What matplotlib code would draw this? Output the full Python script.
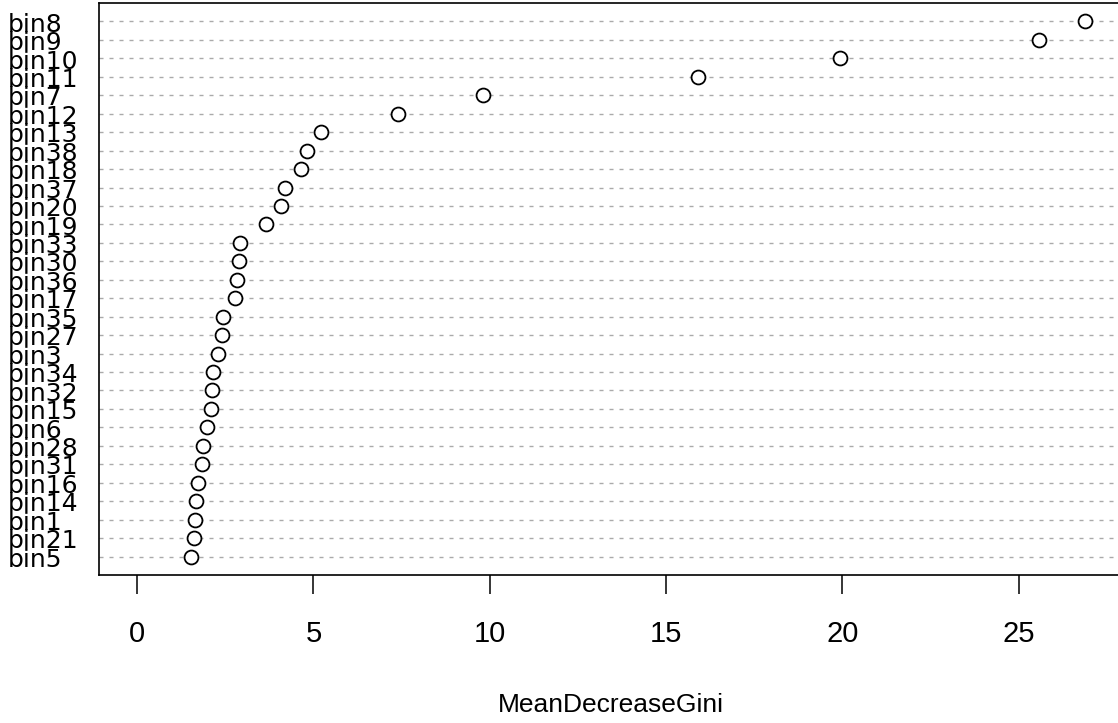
import matplotlib
matplotlib.use('Agg')
import matplotlib.pyplot as plt
import matplotlib.transforms as mtransforms

# variable importance (top to bottom as in the plot)
labels = ['bin8', 'bin9', 'bin10', 'bin11', 'bin7', 'bin12', 'bin13', 'bin38',
          'bin18', 'bin37', 'bin20', 'bin19', 'bin33', 'bin30', 'bin36', 'bin17',
          'bin35', 'bin27', 'bin3', 'bin34', 'bin32', 'bin15', 'bin6', 'bin28',
          'bin31', 'bin16', 'bin14', 'bin1', 'bin21', 'bin5']
gini = [26.87, 25.56, 19.94, 15.89, 9.82, 7.40, 5.22, 4.82,
        4.65, 4.20, 4.09, 3.66, 2.92, 2.89, 2.84, 2.78,
        2.44, 2.41, 2.30, 2.16, 2.13, 2.10, 1.99, 1.87,
        1.84, 1.73, 1.67, 1.65, 1.62, 1.53]
xticks = [0, 5, 10, 15, 20, 25]

n = len(labels)
rows = list(range(n, 0, -1))

fig = plt.figure(figsize=(11.18, 7.23), dpi=100)
ax = fig.add_axes([0.0887, 0.2047, 0.9155, 0.7911])

# dotted guide lines
for r in rows:
    ax.axhline(r, color='#aaaaaa', lw=1.0, ls=(0, (2.9, 4.3)), zorder=1)

ax.plot(gini, rows, 'o', ms=10, mfc='white', mec='black', mew=1.3, zorder=3)

pad = 0.04 * max(gini)
ax.set_xlim(-pad, max(gini) + pad)
ax.set_ylim(0, n + 1)

ax.set_yticks([])
ax.set_xticks(xticks)
ax.set_xticklabels([str(t) for t in xticks], family=['Liberation Sans', 'DejaVu Sans'], fontsize=21)
ax.tick_params(axis='x', length=13.7, width=1.1, pad=19, color='black')

for sp in ax.spines.values():
    sp.set_linewidth(1.2)
ax.spines['right'].set_visible(False)  # falls outside the picture in the original

# row labels, left aligned at the figure edge
trans = mtransforms.blended_transform_factory(fig.transFigure, ax.transData)
for lab, r in zip(labels, rows):
    ax.text(8 / 1118, r - 0.55, lab, transform=trans, ha='left', va='baseline',
            fontsize=18, family=['DejaVu Sans'], clip_on=False)

ax.set_xlabel('MeanDecreaseGini', fontsize=19, family=['Liberation Sans', 'DejaVu Sans'])
ax.xaxis.set_label_coords(0.5, -0.2395)
ax.xaxis.label.set_va('baseline')

fig.savefig('out.png', dpi=100)
